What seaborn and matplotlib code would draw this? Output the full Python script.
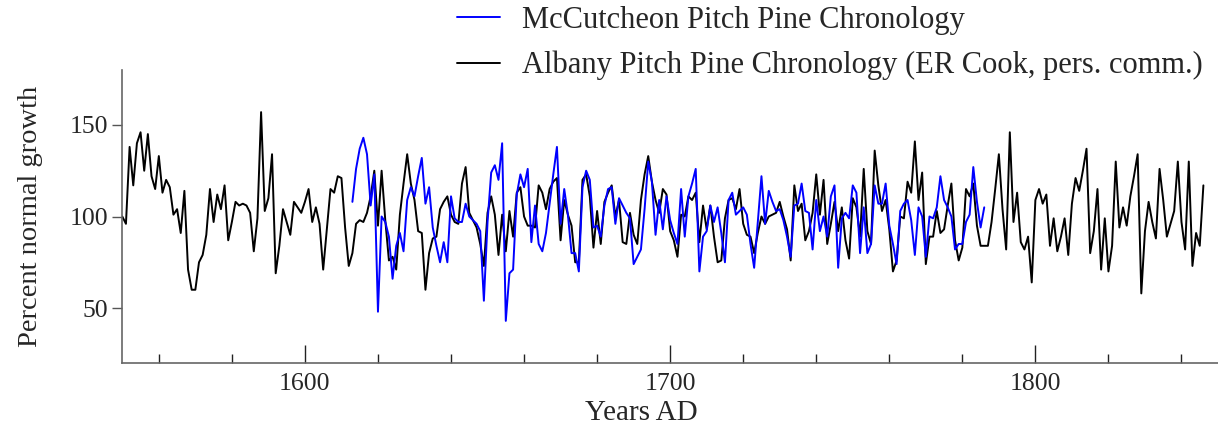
import numpy as np
import pandas as pd
import matplotlib
matplotlib.use("Agg")
import matplotlib.pyplot as plt
import seaborn as sns
from matplotlib.ticker import MultipleLocator, FixedLocator

# ring-width index (percent of normal growth), one value per year
albany_first_year = 1550
albany = [
    100, 96, 138, 117, 140, 146, 125, 145, 122, 115,   # 1550-1559
    133, 113, 120, 116, 101, 104, 91, 114, 71, 60,     # 1560-1569
    60, 75, 79, 90, 115, 97, 112, 104, 117, 87,        # 1570-1579
    97, 108, 106, 107, 106, 102, 81, 99, 157, 103,     # 1580-1589
    110, 134, 69, 84, 104, 97, 90, 108, 105, 102,      # 1590-1599
    108, 115, 97, 105, 96, 71, 93, 115, 113, 122,      # 1600-1609
    121, 94, 73, 80, 96, 98, 97, 102, 111, 125,        # 1610-1619
    95, 125, 98, 76, 78, 71, 101, 118, 134, 118,       # 1620-1629
    109, 92, 91, 60, 80, 88, 89, 104, 108, 111,        # 1630-1639
    101, 97, 96, 118, 127, 102, 98, 94, 85, 73,        # 1640-1649
    102, 111, 101, 79, 101, 81, 103, 89, 113, 116,     # 1650-1659
    100, 95, 95, 94, 117, 113, 104, 115, 119, 121,     # 1660-1669
    87, 109, 101, 95, 75, 75, 120, 123, 111, 83,       # 1670-1679
    103, 85, 108, 113, 117, 100, 109, 86, 85, 102,     # 1680-1689
    90, 85, 109, 123, 133, 119, 109, 102, 115, 112,    # 1690-1699
    92, 87, 78, 101, 100, 111, 109, 113, 86, 106,      # 1700-1709
    93, 106, 89, 75, 76, 99, 109, 110, 104, 115,       # 1710-1719
    96, 90, 89, 80, 91, 100, 96, 100, 101, 102,        # 1720-1729
    108, 100, 93, 76, 117, 103, 107, 87, 92, 102,      # 1730-1739
    123, 101, 120, 85, 96, 108, 92, 105, 87, 77,       # 1740-1749
    110, 105, 89, 126, 92, 85, 136, 117, 103, 109,     # 1750-1759
    93, 70, 76, 100, 99, 119, 113, 141, 109, 124,      # 1760-1769
    74, 89, 89, 103, 91, 93, 106, 118, 87, 76,         # 1770-1779
    83, 115, 111, 118, 95, 84, 84, 84, 97, 115,        # 1780-1789
    134, 104, 82, 146, 97, 113, 86, 82, 89, 64,        # 1790-1799
    109, 115, 107, 112, 84, 99, 81, 89, 99, 79,        # 1800-1809
    107, 121, 114, 125, 137, 80, 92, 115, 71, 99,      # 1810-1819
    70, 84, 130, 94, 105, 95, 111, 122, 134, 58,       # 1820-1829
    92, 108, 97, 88, 126, 109, 89, 96, 103, 130,       # 1830-1839
    97, 82, 130, 73, 91, 84, 117,                      # 1840-1846
]

mccutcheon_first_year = 1613
mccutcheon = [
    108, 126, 137, 143, 134, 106, 123,                 # 1613-1619
    48, 100, 97, 89, 66, 84, 91, 81, 109, 116,         # 1620-1629
    111, 122, 132, 107, 116, 94, 84, 75, 86, 75,       # 1630-1639
    111, 99, 97, 97, 107, 100, 98, 96, 92, 54,         # 1640-1649
    97, 124, 128, 120, 140, 43, 69, 71, 112, 123,      # 1650-1659
    116, 126, 86, 106, 85, 81, 91, 107, 123, 138,      # 1660-1669
    96, 115, 101, 80, 80, 70, 116, 125, 120, 94,       # 1670-1679
    95, 89, 106, 115, 116, 96, 110, 106, 102, 99,      # 1680-1689
    74, 78, 82, 104, 130, 119, 90, 109, 93, 111,       # 1690-1699
    98, 91, 85, 115, 89, 111, 118, 126, 70, 89,        # 1700-1709
    92, 106, 97, 105, 91, 75, 109, 113, 101, 103,      # 1710-1719
    105, 101, 85, 72, 97, 122, 96, 114, 108, 103,      # 1720-1729
    104, 98, 89, 78, 106, 107, 118, 103, 102, 82,      # 1730-1739
    109, 92, 100, 89, 111, 117, 72, 99, 102, 99,       # 1740-1749
    117, 113, 80, 105, 80, 85, 117, 107, 107, 118,     # 1750-1759
    95, 85, 74, 103, 107, 109, 98, 79, 105, 100,       # 1760-1769
    78, 100, 99, 105, 122, 109, 105, 100, 82, 85,      # 1770-1779
    85, 97, 101, 127, 108, 94, 105,                    # 1780-1786
]

label_mcc = "McCutcheon Pitch Pine Chronology"
label_alb = "Albany Pitch Pine Chronology (ER Cook, pers. comm.)"

alb_df = pd.DataFrame({"year": np.arange(albany_first_year, albany_first_year + len(albany)),
                       "growth": albany})
mcc_df = pd.DataFrame({"year": np.arange(mccutcheon_first_year, mccutcheon_first_year + len(mccutcheon)),
                       "growth": mccutcheon})

sns.set_style("ticks")
plt.rcParams['font.family'] = ['Liberation Serif', 'DejaVu Serif']

W, H = 1218, 440
fig = plt.figure(figsize=(W / 100, H / 100), dpi=100)
ax = fig.add_axes([122.3 / W, 1 - 363 / H, (W - 122.3) / W, 293 / H])

sns.lineplot(data=alb_df, x="year", y="growth", color="black", lw=1.4, ax=ax, label=label_alb)
sns.lineplot(data=mcc_df, x="year", y="growth", color="#0000ff", lw=1.4, ax=ax, label=label_mcc)

ax.set_xlim(1550, 1850)
ax.set_ylim(20, 180)

ax.xaxis.set_major_locator(FixedLocator([1600, 1700, 1800]))
ax.xaxis.set_minor_locator(MultipleLocator(20))
ax.yaxis.set_major_locator(FixedLocator([50, 100, 150]))

ax.tick_params(axis="x", which="major", direction="in", length=13, width=1,
               color="#222222", labelsize=18.5, pad=7)
ax.tick_params(axis="x", which="minor", direction="in", length=6.5, width=1, color="#222222")
ax.tick_params(axis="y", which="major", direction="out", length=7, width=1,
               color="#555555", labelsize=18.5, pad=3)

sns.despine(ax=ax)
for side in ("left", "bottom"):
    ax.spines[side].set_color("#666666")
    ax.spines[side].set_linewidth(1.2)

ax.set_xlabel("Years AD", fontsize=21)
ax.set_ylabel("Percent normal growth", fontsize=20.5)
ax.xaxis.set_label_coords((641 - 122.3) / (W - 122.3), -0.125)
ax.yaxis.set_label_coords(-0.072, 0.5)

handles, labels = ax.get_legend_handles_labels()
ax.get_legend().remove()
order = [labels.index(label_mcc), labels.index(label_alb)]
fig.legend([handles[i] for i in order], [labels[i] for i in order],
           loc="upper left", bbox_to_anchor=(457 / W, 0.987), frameon=False,
           fontsize=22, handlelength=1.4, handletextpad=0.72, labelspacing=0.53,
           borderpad=0, borderaxespad=0)

fig.savefig("out.png", dpi=100)
